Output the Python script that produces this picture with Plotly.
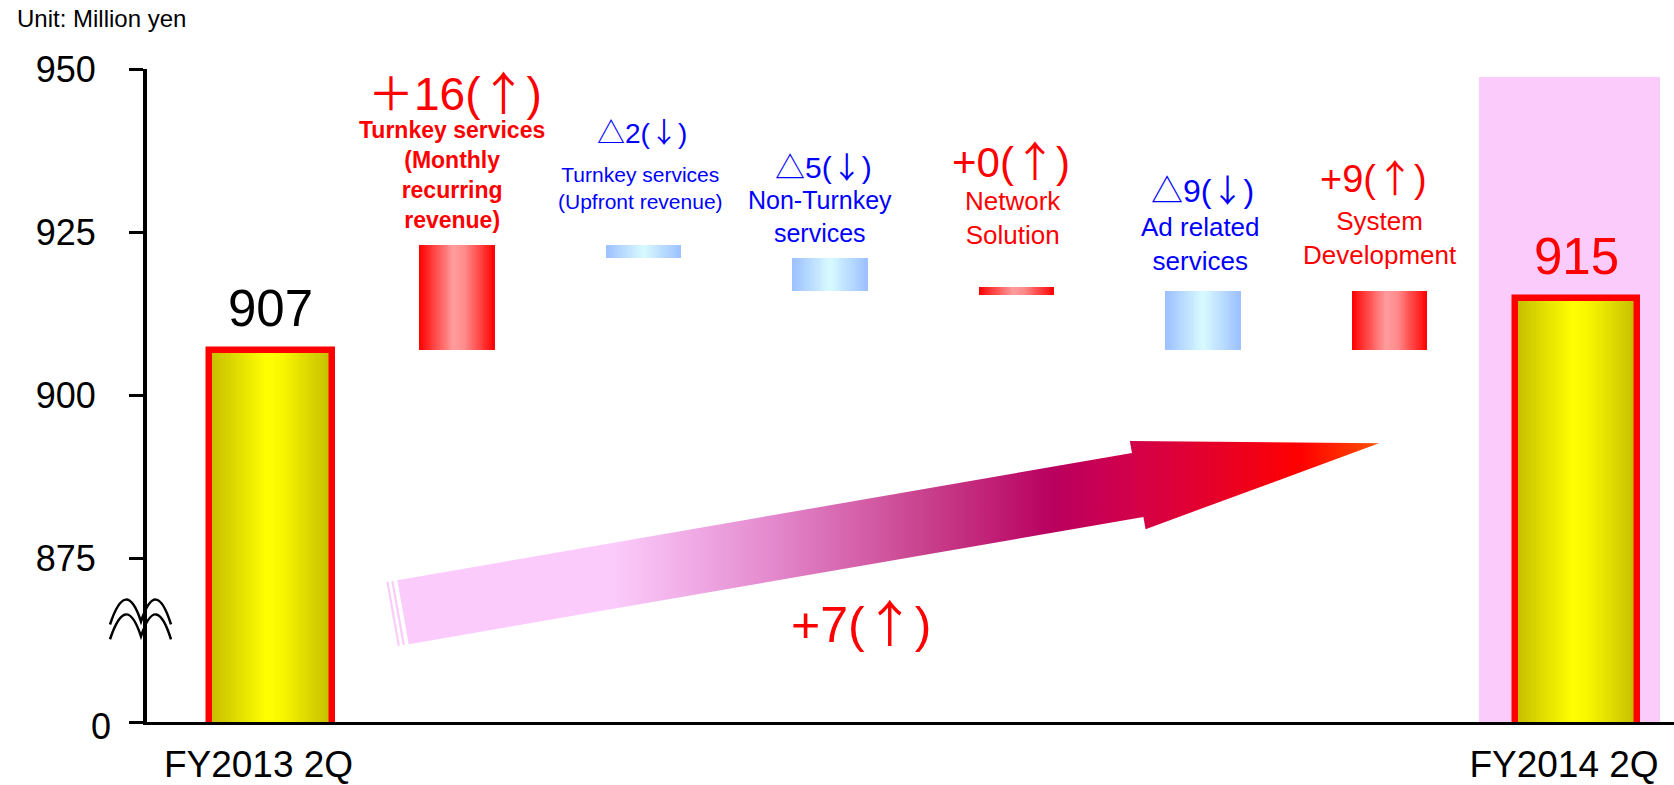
import numpy as np
import plotly.graph_objects as go

# ---------------- data ----------------
periods = ["FY2013 2Q", "FY2014 2Q"]
period_totals = [907, 915]
overall_change = 7                      # reported year-on-year change
segment_names = [
    "Turnkey services<br>(Monthly<br>recurring<br>revenue)",
    "Turnkey services<br>(Upfront revenue)",
    "Non-Turnkey<br>services",
    "Network<br>Solution",
    "Ad related<br>services",
    "System<br>Development",
]
segment_changes = [16, -2, -5, 0, -9, 9]
y_tick_values = [850, 875, 900, 925, 950]      # 850 is the broken-axis floor
y_tick_labels = ["0", "875", "900", "925", "950"]

# ---------------- geometry / style ----------------
W, H = 1674, 785
PL, PR, PT, PB = 147, 1674, 69, 732        # plot-area edges in pixels
X0_PX, SLOT = 270.5, 186.5                 # first bar centre and bar spacing (px)
TOTAL_W, SEG_W = 0.657, 0.405              # bar widths in category units
ZERO_THICK = 1.1                           # drawn thickness for a zero change
FONT = "Liberation Sans, Arial, Noto Sans CJK JP, sans-serif"
CJK = "Noto Sans CJK JP"
RED, BLUE = "#FF0000", "#0000FF"

GRAD = {
    "total": [(0.0, "#C4BC00"), (0.47, "#FFFF00"), (0.6, "#F8F600"), (1.0, "#C4BC00")],
    "up":    [(0.0, "#FF0000"), (0.45, "#FF9C9C"), (0.6, "#FF8C8C"), (1.0, "#FF0000")],
    "down":  [(0.0, "#9CC0FF"), (0.5, "#D8FAFF"), (1.0, "#9CC0FF")],
}


def hex_rgb(h):
    h = h.lstrip("#")
    return np.array([int(h[i:i + 2], 16) for i in (0, 2, 4)], dtype=float)


def grad_color(stops, t):
    for (t0, c0), (t1, c1) in zip(stops[:-1], stops[1:]):
        if t0 <= t <= t1:
            f = (t - t0) / (t1 - t0)
            c = hex_rgb(c0) * (1 - f) + hex_rgb(c1) * f
            return "rgb({:.0f},{:.0f},{:.0f})".format(*c)
    return stops[-1][1]


def px_to_paper(x, y):
    return (x - PL) / (PR - PL), (PB - y) / (PB - PT)


# ---------------- waterfall layout ----------------
n_bars = len(segment_changes) + 2
x_pos = list(range(n_bars))
kinds, bases, lengths, widths = ["total"], [0], [period_totals[0]], [TOTAL_W]
level = period_totals[0]
for d in segment_changes:
    if d == 0:
        lo, hi = level - ZERO_THICK / 2, level + ZERO_THICK / 2
    else:
        lo, hi = min(level, level + d), max(level, level + d)
    kinds.append("up" if d >= 0 else "down")
    bases.append(lo)
    lengths.append(hi - lo)
    widths.append(SEG_W)
    level += d
kinds.append("total")
bases.append(0)
lengths.append(period_totals[1])
widths.append(TOTAL_W)

fig = go.Figure()

# bars filled with a horizontal gradient, built from narrow vertical strips
N_STRIPS = 40
for i in range(N_STRIPS):
    f0 = i / N_STRIPS
    wf = (1 / N_STRIPS) * (1.6 if i < N_STRIPS - 1 else 1.0)
    tc = (i + 0.5) / N_STRIPS
    fig.add_trace(go.Bar(
        x=x_pos, base=bases, y=lengths,
        width=[w * wf for w in widths],
        offset=[-w / 2 + w * f0 for w in widths],
        marker=dict(color=[grad_color(GRAD[k], tc) for k in kinds], line=dict(width=0)),
        showlegend=False, hoverinfo="skip",
    ))

# red frame around the two period totals
fig.add_trace(go.Bar(
    x=[0, n_bars - 1], base=[0, 0], y=period_totals, width=TOTAL_W,
    marker=dict(color="rgba(0,0,0,0)", line=dict(color=RED, width=6.5)),
    showlegend=False, hoverinfo="skip",
))

# ---------------- overall-change arrow (pixel overlay axes) ----------------
tail = np.array([403.0, 620.5])
tip = np.array([1379.0, 449.0])
half_w, head_half_w, head_len = 33.0, 45.5, 245.0
u = (tip - tail) / np.linalg.norm(tip - tail)
nrm = np.array([-u[1], u[0]])
base_c = tip - head_len * u
poly = [tail - half_w * nrm, base_c - half_w * nrm, base_c - head_half_w * nrm, tip,
        base_c + head_half_w * nrm, base_c + half_w * nrm, tail + half_w * nrm,
        tail - half_w * nrm]
fig.add_trace(go.Scatter(
    x=[p[0] for p in poly], y=[p[1] for p in poly], xaxis="x2", yaxis="y2",
    mode="lines", line=dict(width=0, color="rgba(0,0,0,0)"), fill="toself",
    fillgradient=dict(
        type="horizontal", start=397, stop=1379,
        colorscale=[[0.0, "#FBCCFB"], [0.22, "#FBCCFB"], [0.38, "#E48ACE"],
                    [0.54, "#C8408C"], [0.668, "#B9005F"], [0.748, "#D2004A"],
                    [0.834, "#E60028"], [0.92, "#FF0000"], [1.0, "#FF5000"]],
    ),
    showlegend=False, hoverinfo="skip",
))
# thin slivers behind the arrow tail
for k in (5.0, 10.0):
    a = tail - half_w * nrm - k * u
    b = tail + half_w * nrm - k * u
    fig.add_trace(go.Scatter(
        x=[a[0], b[0]], y=[a[1], b[1]], xaxis="x2", yaxis="y2", mode="lines",
        line=dict(color="#FBCCFB", width=2.2), showlegend=False, hoverinfo="skip",
    ))

# ---------------- shapes ----------------
shapes = [
    # highlight band behind the latest period
    dict(type="rect", xref="x2", yref="y2", x0=1479, x1=1660, y0=77, y1=PB,
         fillcolor="#FBCBFB", line=dict(width=0), layer="below"),
]
# axis-break mark: two wavy strokes across the value axis
for dy in (0, 15):
    pts = [(110, 633 + dy), (126, 584 + dy), (141, 630 + dy), (156, 584 + dy), (171, 633 + dy)]
    pp = [px_to_paper(x, y) for x, y in pts]
    path = "M {:.5f},{:.5f} Q {:.5f},{:.5f} {:.5f},{:.5f} Q {:.5f},{:.5f} {:.5f},{:.5f}".format(
        *pp[0], *pp[1], *pp[2], *pp[3], *pp[4])
    shapes.append(dict(type="path", xref="paper", yref="paper", path=path,
                       line=dict(color="black", width=2.5)))

# ---------------- annotations ----------------
def arrow_glyph(up):
    return f"(<span style='font-family:{CJK}'>{'↑' if up else '↓'}</span>)"


def delta_text(v, wide_plus=False):
    if v >= 0:
        return ("＋" if wide_plus else "+") + f"{v}" + arrow_glyph(True)
    return f"△{-v}" + arrow_glyph(False)


def px_note(x, y, text, size, color, xanchor="center", yanchor="middle"):
    px, py = px_to_paper(x, y)
    return dict(x=px, y=py, xref="paper", yref="paper", text=text, showarrow=False,
                xanchor=xanchor, yanchor=yanchor,
                font=dict(family=FONT, size=size, color=color))


# per-segment text placement: (delta x, delta y, delta size, name x, name y, name size, bold)
seg_text_pos = [
    (455, 90, 46, 452, 177, 23, True),
    (642, 132, 28, 640, 190, 21, False),
    (823, 166, 30, 820, 219, 25, False),
    (1011, 160, 42, 1013, 220, 26, False),
    (1202, 190, 32, 1200, 247, 26, False),
    (1373, 177, 38, 1380, 241, 26, False),
]
annotations = []
for j, (d, name, pos) in enumerate(zip(segment_changes, segment_names, seg_text_pos)):
    col = RED if d >= 0 else BLUE
    dx, dy, ds, nx, ny, ns, bold = pos
    annotations.append(px_note(dx, dy, delta_text(d, wide_plus=(j == 0)), ds, col))
    annotations.append(px_note(nx, ny, f"<b>{name}</b>" if bold else name, ns, col))

# period total values
for xi, val, col in ((0, period_totals[0], "black"), (n_bars - 1, period_totals[1], RED)):
    annotations.append(dict(
        x=xi, y=val, xref="x", yref="y", text=str(val), showarrow=False,
        xanchor="center", yanchor="middle", yshift=41,
        font=dict(family=FONT, size=51, color=col)))

# overall change
annotations.append(px_note(861, 628, delta_text(overall_change), 50, RED))

# unit note and the floor label of the broken axis
annotations.append(px_note(15, 18, "Unit: Million yen", 24, "black", xanchor="left"))
annotations.append(px_note(113, 737, y_tick_labels[0], 36, "black", xanchor="right"))

# ---------------- layout ----------------
fig.update_layout(
    width=W, height=H, autosize=False,
    margin=dict(l=PL, r=W - PR, t=PT, b=H - PB, pad=0),
    paper_bgcolor="white", plot_bgcolor="white",
    barmode="overlay", bargap=0, showlegend=False,
    font=dict(family=FONT, color="black"),
    xaxis=dict(
        range=[(PL - X0_PX) / SLOT, (PR - X0_PX) / SLOT],
        tickmode="array", tickvals=[0, n_bars - 1], ticktext=periods,
        ticks="", showgrid=False, zeroline=False,
        showline=True, linecolor="black", linewidth=3,
        tickfont=dict(family=FONT, size=37, color="black"),
        ticklabelshift=-12, ticklabelstandoff=8,
    ),
    yaxis=dict(
        range=[850, 950],
        tickmode="array", tickvals=y_tick_values, ticktext=[""] + y_tick_labels[1:],
        ticks="outside", ticklen=14, tickwidth=3, tickcolor="black",
        showgrid=False, zeroline=False,
        showline=True, linecolor="black", linewidth=4,
        tickfont=dict(family=FONT, size=36, color="black"),
        ticklabelstandoff=26,
    ),
    xaxis2=dict(overlaying="x", anchor="y2", range=[PL, PR], visible=False),
    yaxis2=dict(overlaying="y", anchor="x2", range=[PB, PT], visible=False),
    shapes=shapes,
    annotations=annotations,
)

fig.write_html("out.html")
